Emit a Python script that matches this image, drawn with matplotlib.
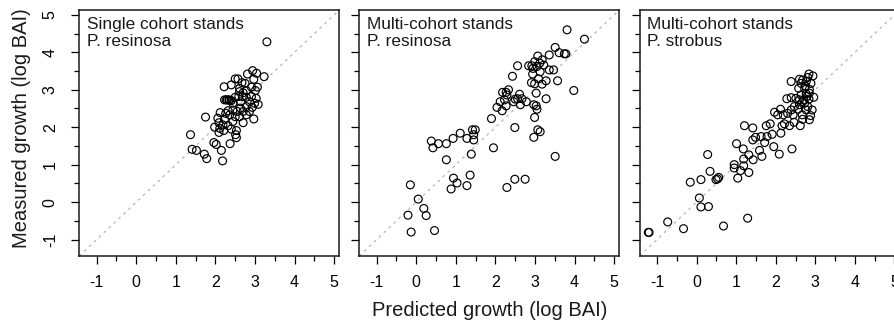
import matplotlib
matplotlib.use("Agg")
import matplotlib.pyplot as plt
import numpy as np

plt.rcParams['font.family'] = ['Liberation Sans', 'DejaVu Sans']
plt.rcParams['axes.unicode_minus'] = False

titles = ["Single cohort stands\nP. resinosa",
          "Multi-cohort stands\nP. resinosa",
          "Multi-cohort stands\nP. strobus"]

# Panel 1: single cohort, P. resinosa (predicted, measured)
p1_pred = [3.30, 2.94, 2.81, 3.04, 3.23, 2.97, 2.50, 2.57, 2.40, 2.22, 2.67, 2.75, 2.61, 2.91, 3.06,
           2.61, 2.70, 2.78, 3.01, 2.59, 2.68, 2.78, 2.91, 3.03, 2.50, 2.27, 2.34, 2.40, 2.23, 2.64,
           2.86, 2.99, 3.08, 2.44, 2.78, 2.93, 2.63, 2.44, 2.32, 2.55, 2.70, 2.86, 2.12, 2.26, 2.36,
           2.50, 2.61, 2.78, 2.97, 1.75, 2.06, 2.23, 2.44, 2.70, 2.09, 2.19, 2.32, 1.98, 2.11, 2.21,
           2.40, 2.53, 2.09, 2.51, 2.53, 1.37, 1.96, 2.02, 2.37, 1.41, 1.52, 1.72, 1.78, 2.15, 2.18,
           2.30, 2.36]
p1_meas = [4.28, 3.51, 3.42, 3.44, 3.35, 3.28, 3.29, 3.29, 3.13, 3.08, 3.19, 3.17, 3.04, 3.07, 3.07,
           2.95, 2.92, 2.98, 2.98, 2.82, 2.82, 2.80, 2.82, 2.77, 2.80, 2.73, 2.73, 2.71, 2.73, 2.68,
           2.68, 2.64, 2.61, 2.64, 2.55, 2.53, 2.51, 2.46, 2.44, 2.42, 2.42, 2.42, 2.39, 2.37, 2.33,
           2.28, 2.28, 2.33, 2.22, 2.27, 2.24, 2.21, 2.15, 2.12, 2.12, 2.06, 2.04, 2.00, 1.97, 1.91,
           1.95, 1.91, 1.86, 1.80, 1.72, 1.80, 1.59, 1.54, 1.56, 1.41, 1.38, 1.28, 1.16, 1.38, 1.10,
           2.73, 2.72]

# Panel 2: multi-cohort, P. resinosa
p2_pred = [3.81, 4.25, 3.51, 3.61, 3.36, 3.74, 3.78, 3.07, 3.18, 2.99, 3.12, 2.92, 2.84, 3.05, 3.22,
           2.56, 3.36, 3.47, 2.95, 3.13, 2.94, 2.43, 3.09, 3.28, 3.57, 2.91, 2.99, 3.18, 3.98, 2.18,
           2.27, 2.33, 2.29, 2.61, 2.12, 2.23, 2.50, 2.56, 2.67, 2.46, 2.78, 3.03, 3.28, 2.63, 2.04,
           2.27, 2.97, 3.03, 2.17, 3.05, 1.90, 2.99, 1.42, 1.49, 1.11, 1.45, 2.49, 3.07, 3.13, 2.97,
           0.93, 1.28, 1.45, 0.38, 0.76, 0.56, 0.42, 1.95, 1.39, 0.76, 3.51, 0.94, 1.36, 1.03, 1.28,
           2.49, 2.75, 2.29, 0.88, -0.15, 0.05, 0.19, 0.25, -0.21, -0.13, 0.46]
p2_meas = [4.60, 4.35, 4.13, 3.99, 3.93, 3.96, 3.96, 3.90, 3.80, 3.75, 3.71, 3.64, 3.64, 3.62, 3.66,
           3.64, 3.53, 3.53, 3.57, 3.48, 3.42, 3.36, 3.29, 3.24, 3.24, 3.19, 3.16, 3.15, 2.98, 2.93,
           2.93, 3.00, 2.86, 2.88, 2.68, 2.73, 2.75, 2.76, 2.76, 2.68, 2.68, 2.91, 2.76, 2.60, 2.53,
           2.57, 2.60, 2.57, 2.44, 2.48, 2.23, 2.26, 1.93, 1.93, 1.84, 1.80, 1.99, 1.93, 1.88, 1.73,
           1.70, 1.70, 1.66, 1.63, 1.56, 1.56, 1.45, 1.45, 1.28, 1.13, 1.22, 0.64, 0.72, 0.51, 0.44,
           0.61, 0.61, 0.39, 0.35, 0.46, 0.08, -0.17, -0.36, -0.35, -0.80, -0.76]

# Panel 3: multi-cohort, P. strobus
p3_pred = [-1.22, -1.20, -0.73, -0.33, 0.68, 1.29, 0.07, 0.11, 0.30, -0.16, 0.11, 0.34, 0.28, 0.49,
           0.53, 0.56, 1.04, 0.95, 0.95, 1.11, 1.19, 1.32, 1.19, 1.32, 1.43, 1.01, 1.18, 1.65, 1.59,
           1.21, 1.42, 1.42, 1.49, 1.63, 1.72, 1.78, 1.91, 1.76, 1.86, 1.95, 2.09, 2.41, 2.13, 2.16,
           2.22, 2.35, 2.46, 1.97, 2.05, 2.12, 2.19, 2.30, 2.39, 2.44, 2.56, 2.67, 2.62, 2.68, 2.85,
           2.88, 2.92, 2.81, 2.47, 2.28, 2.39, 2.51, 2.60, 2.71, 2.84, 2.96, 2.64, 2.77, 2.58, 2.73,
           2.85, 2.89, 2.64, 2.77, 2.81, 2.94, 2.84, 2.60, 2.39, 2.68, 2.75, 2.73, 2.77, 2.60, 2.68,
           2.79, 2.85]
p3_meas = [-0.81, -0.81, -0.53, -0.71, -0.64, -0.43, 0.11, -0.13, -0.12, 0.53, 0.60, 0.82, 1.27, 0.60,
           0.62, 0.66, 0.64, 1.00, 0.91, 0.84, 0.97, 0.79, 1.15, 1.26, 1.13, 1.56, 1.42, 1.22, 1.38,
           2.04, 1.98, 1.66, 1.73, 1.75, 1.59, 1.75, 1.81, 2.04, 2.09, 1.48, 1.28, 1.42, 1.84, 2.04,
           2.09, 2.04, 2.13, 2.40, 2.33, 2.48, 2.33, 2.37, 2.46, 2.33, 2.48, 2.33, 2.04, 2.21, 2.20,
           2.31, 2.46, 2.55, 2.55, 2.76, 2.79, 2.77, 2.73, 2.73, 2.75, 2.80, 2.86, 2.89, 3.04, 3.04,
           3.01, 3.17, 3.17, 3.22, 3.33, 3.37, 3.42, 3.28, 3.22, 3.26, 3.10, 2.64, 2.46, 2.60, 2.68,
           2.82, 2.91]

preds = [p1_pred, p2_pred, p3_pred]
meas = [p1_meas, p2_meas, p3_meas]

major_ticks = [-1, 0, 1, 2, 3, 4, 5]
minor_ticks = [-0.5, 0.5, 1.5, 2.5, 3.5, 4.5]
lims = (-1.44, 5.13)

W, H = 894, 323
fig = plt.figure(figsize=(W / 100, H / 100), dpi=100)

lefts = [79.3, 359.3, 639.6]
ax_w, ax_top, ax_bot = 260.0, 10.0, 256.0

for i in range(3):
    ax = fig.add_axes([lefts[i] / W, (H - ax_bot) / H, ax_w / W, (ax_bot - ax_top) / H])
    ax.set_xlim(lims)
    ax.set_ylim(lims)
    ax.axline((0, 0), slope=1, color='#b5b5b5', lw=0.9, ls=(0, (2.2, 3.2)), zorder=1)
    ax.scatter(preds[i], meas[i], s=32, facecolors='none', edgecolors='black',
               linewidths=0.85, zorder=2)
    ax.set_xticks(major_ticks)
    ax.set_xticks(minor_ticks, minor=True)
    ax.set_yticks(major_ticks)
    ax.set_yticks(minor_ticks, minor=True)
    ax.tick_params(which='major', direction='out', length=5.5, width=0.9,
                   labelsize=11.5, color='black')
    ax.tick_params(axis='x', which='major', pad=8.5)
    ax.tick_params(axis='y', which='major', pad=10, labelrotation=90)
    ax.tick_params(which='minor', direction='out', length=3.5, width=0.9, color='black')
    if i > 0:
        ax.tick_params(axis='y', labelleft=False)
    for lab in ax.get_yticklabels():
        lab.set_va('center')
    for sp in ax.spines.values():
        sp.set_linewidth(1.1)
        sp.set_color('#1a1a1a')
    ax.text(0.03, 0.97, titles[i], transform=ax.transAxes, ha='left', va='top',
            fontsize=12.4, linespacing=1.1, color='#1a1a1a')

fig.text(489.3 / W, 1 - 310 / H, "Predicted growth (log BAI)", ha='center', va='center',
         fontsize=14.5, color='#1a1a1a')
fig.text(22 / W, 1 - 128 / H, "Measured growth (log BAI)", ha='center', va='center',
         rotation=90, fontsize=14.5, color='#1a1a1a')

fig.savefig("out.png", dpi=100)
